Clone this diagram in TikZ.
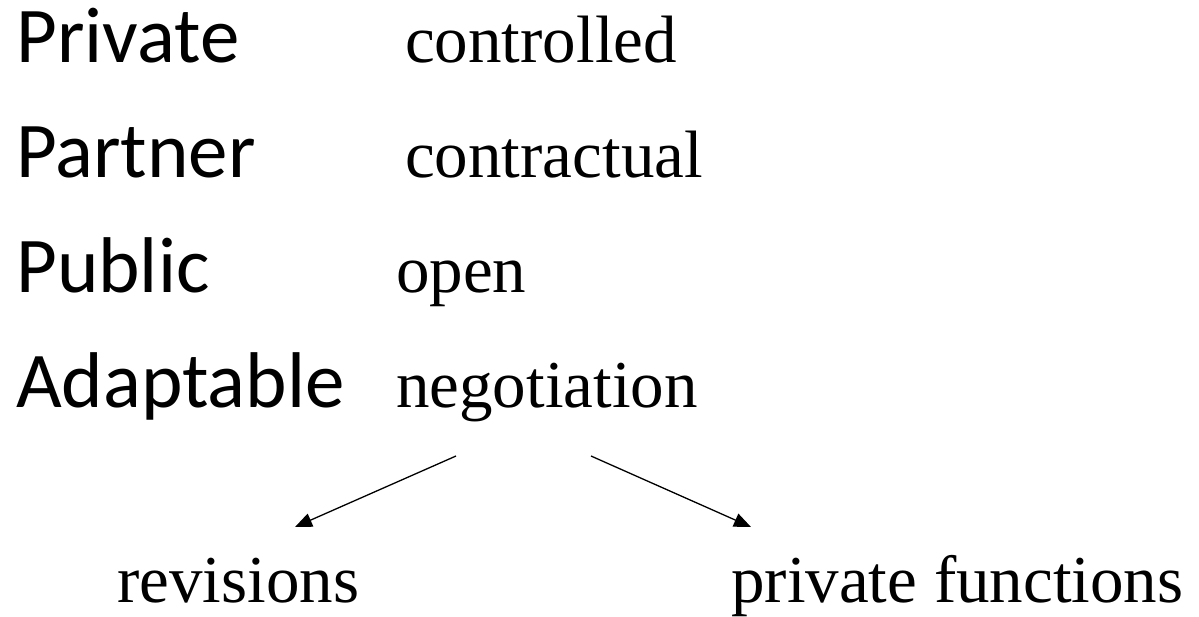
\documentclass[tikz,border=0pt]{standalone}
\usepackage{fontspec}
\setmainfont{Liberation Serif}
\newfontfamily\calib{Carlito}
\usetikzlibrary{arrows.meta}
\begin{document}
\begin{tikzpicture}[x=1pt,y=-1pt,
  lab/.style={font=\calib\fontsize{79}{90}\selectfont, anchor=base west, inner sep=0pt},
  val/.style={font=\fontsize{67}{80}\selectfont, anchor=base west, inner sep=0pt},
  arr/.style={-{Triangle[length=17pt,width=14pt]}, line width=1.3pt}]
\useasboundingbox (0,0) rectangle (1199,616);
\node[lab] (private) at (16,62.5) {Private};
\node[lab] (partner) at (16,177.3) {Partner};
\node[lab] (public) at (16,292) {Public};
\node[lab] (adaptable) at (16,407) {Adaptable};
\node[val] (controlled) at (405,62.5) {controlled};
\node[val] (contractual) at (405,177.3) {contractual};
\node[val] (open) at (396,292) {open};
\node[val] (negotiation) at (396,407) {negotiation};
\node[val] (revisions) at (117,602) {revisions};
\node[val] (privfun) at (731,602) {private functions};
\coordinate (ls) at (456,456);
\coordinate (lt) at (295,527);
\coordinate (rs) at (591,456);
\coordinate (rt) at (751,527);
\draw[arr] (ls) -- (lt);
\draw[arr] (rs) -- (rt);
\end{tikzpicture}
\end{document}
